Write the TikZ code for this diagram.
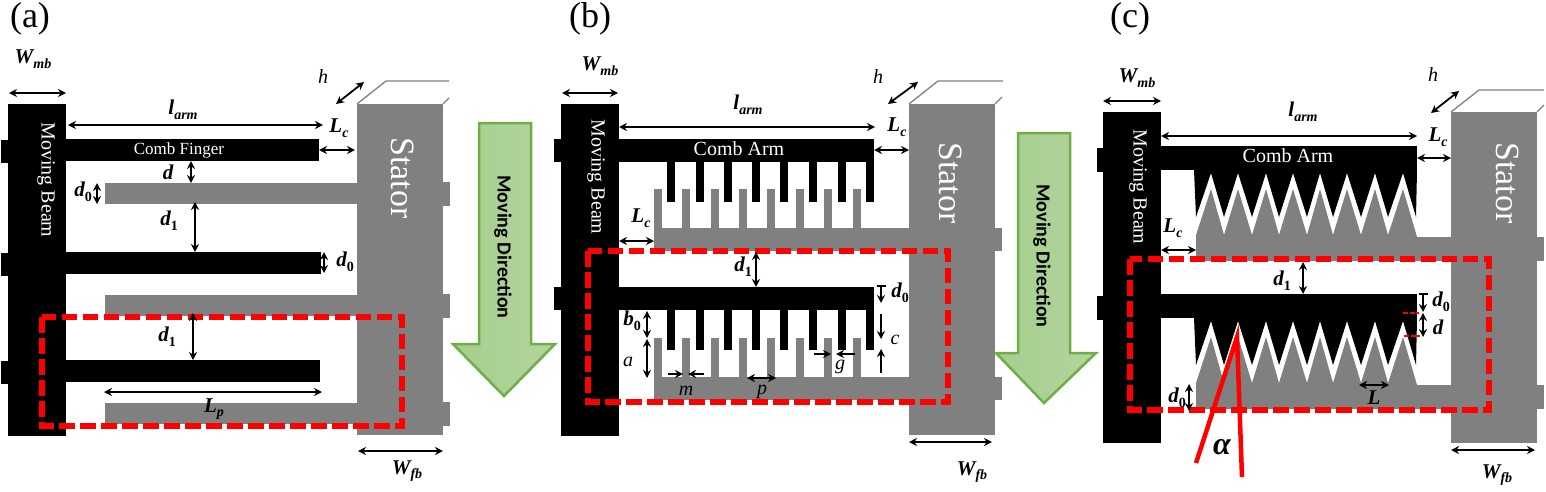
\documentclass[tikz,border=0pt]{standalone}
\usepackage{amsmath,amssymb,amsfonts}
\usepackage{fontspec}
\setmainfont{Liberation Serif}
\newfontfamily\arrowfont{Carlito}
\usetikzlibrary{arrows.meta}
\definecolor{arrowgreen}{HTML}{70AD47}
\definecolor{arrowleft}{HTML}{A6CE8D}
\definecolor{arrowright}{HTML}{B2D49E}
\newcommand{\low}[1]{\raisebox{-0.22em}{\fontsize{14}{14}\selectfont #1}}
\newcommand{\num}[1]{\raisebox{-0.22em}{\upshape\fontsize{14}{14}\selectfont #1}}

\begin{document}
\begin{tikzpicture}[x=1pt,y=-1pt,
    black_part/.style={fill=black},
    grey_part/.style={fill=black!50},
    top_edge/.style={draw=black!50,line width=1.3pt},
    red_box/.style={draw=red,line width=5.5pt,dash pattern=on 15.5pt off 5.5pt},
    red_line/.style={draw=red,line width=4.5pt},
    red_dots/.style={draw=red,line width=2.5pt,dash pattern=on 5pt off 1.5pt},
    dim_arrow/.style={draw=black,line width=1.8pt,{Stealth[length=8pt,width=8pt]}-{Stealth[length=8pt,width=8pt]}},
    one_arrow/.style={draw=black,line width=1.8pt,-{Stealth[length=8pt,width=8pt]}},
    bar_arrow/.style={draw=black,line width=1.8pt,{Bar[width=9pt]}-{Stealth[length=8pt,width=8pt]}},
    move_arrow/.style={draw=arrowgreen,line width=2.5pt,left color=arrowleft,right color=arrowright},
    big_lab/.style={inner sep=0pt,font=\fontsize{36}{36}\selectfont},
    beam_lab/.style={inner sep=0pt,text=white,rotate=-90,font=\fontsize{20}{20}\selectfont},
    stat_lab/.style={inner sep=0pt,text=white,rotate=-90,font=\fontsize{34}{34}\selectfont},
    comb_lab/.style={inner sep=0pt,text=white},
    move_lab/.style={inner sep=0pt,rotate=-90,font=\arrowfont\bfseries\fontsize{20}{20}\selectfont},
    sym_lab/.style={inner sep=0pt,font=\bfseries\itshape\fontsize{21}{21}\selectfont},
    thin_lab/.style={inner sep=0pt,font=\itshape\fontsize{20}{20}\selectfont}]
    \useasboundingbox (0,0) rectangle (1546,491);

    % panel a
    \fill[black_part] (8,104) rectangle (66,436);
    \foreach \y/\e in {139/319,252/321,360/320} {
        \fill[black_part] (1,\y+1) rectangle (8,\y+24);
        \fill[black_part] (66,\y) rectangle (\e,\y+22);
    }
    \fill[grey_part] (357,104) rectangle (443,435);
    \foreach \y in {183,295,403} {
        \fill[grey_part] (105,\y) rectangle (357,\y+21);
        \fill[grey_part] (443,\y-1) rectangle (450,\y+23);
    }
    \draw[top_edge] (357,104) -- (386,81) -- (449,81);
    \draw[top_edge] (443,104) -- (449,98);
    \draw[move_arrow] (479,123) -- (531,123) -- (531,344) -- (555,344) -- (504,396) -- (453,344) -- (479,344) -- cycle;
    \draw[red_box] (42,317) rectangle (402,426);

    \node[big_lab] (a) at (30,19) {(a)};
    \node[beam_lab] (beam_a) at (46,180) {Moving Beam};
    \node[stat_lab] (stat_a) at (403,178) {Stator};
    \node[comb_lab,font=\fontsize{17}{17}\selectfont] (comb_a) at (179,150) {Comb Finger};
    \node[move_lab] (move_a) at (503,247) {Moving Direction};
    \node[sym_lab] (wmb_a) at (33,59) {W\low{mb}};
    \node[sym_lab] (larm_a) at (183,110) {l\low{arm}};
    \node[thin_lab] (h_a) at (323,77) {h};
    \node[sym_lab] (lc_a) at (339,128) {L\low{c}};
    \node[sym_lab] (d_a) at (168,172) {d};
    \node[sym_lab] (d0_a) at (83,192) {d\num{0}};
    \node[sym_lab] (d1_a) at (169,221) {d\num{1}};
    \node[sym_lab] (d02_a) at (345,262) {d\num{0}};
    \node[sym_lab] (d12_a) at (167,337) {d\num{1}};
    \node[sym_lab] (lp_a) at (214,409) {L\low{p}};
    \node[sym_lab] (wfb_a) at (407,471) {W\low{fb}};
    \draw[dim_arrow] (9,93) -- (66,93);
    \draw[dim_arrow] (68,125) -- (323,125);
    \draw[dim_arrow] (319,150) -- (355,150);
    \draw[dim_arrow] (336,104) -- (364,82);
    \draw[dim_arrow] (191,161) -- (191,183);
    \draw[dim_arrow] (97,183) -- (97,204);
    \draw[dim_arrow] (195,202) -- (195,252);
    \draw[dim_arrow] (324,252) -- (324,273);
    \draw[dim_arrow] (193,313) -- (193,360);
    \draw[dim_arrow] (104,392) -- (322,392);
    \draw[dim_arrow] (358,451) -- (443,451);

    % panel b
    \fill[black_part] (561,104) rectangle (619,436);
    \fill[grey_part] (909,104) rectangle (995,435);
    \foreach \y in {139,287} {
        \fill[black_part] (554,\y) rectangle (561,\y+23);
        \fill[black_part] (619,\y) rectangle (874,\y+23);
        \foreach \x in {667,696,724,752,780,809,838,866}
            \fill[black_part] (\x,\y+23) rectangle (\x+8,\y+63);
    }
    \foreach \y in {228,377} {
        \fill[grey_part] (654,\y) rectangle (909,\y+23);
        \fill[grey_part] (995,\y) rectangle (1002,\y+23);
        \foreach \x in {654,682,711,739,767,796,824,853}
            \fill[grey_part] (\x,\y-39) rectangle (\x+8,\y);
    }
    \draw[top_edge] (909,104) -- (938,81) -- (1003,81);
    \draw[top_edge] (995,104) -- (1002,97);
    \draw[move_arrow] (1018,133) -- (1070,133) -- (1070,353) -- (1096,353) -- (1044,403) -- (996,353) -- (1018,353) -- cycle;
    \draw[red_box] (588,251) rectangle (948,402);

    \node[big_lab] (b) at (590,19) {(b)};
    \node[beam_lab] (beam_b) at (596,177) {Moving Beam};
    \node[stat_lab] (stat_b) at (951,183) {Stator};
    \node[comb_lab,font=\fontsize{20}{20}\selectfont] (comb_b) at (739,149) {Comb Arm};
    \node[move_lab] (move_b) at (1042,256) {Moving Direction};
    \node[sym_lab] (wmb_b) at (600,66) {W\low{mb}};
    \node[sym_lab] (larm_b) at (748,105) {l\low{arm}};
    \node[thin_lab] (h_b) at (878,77) {h};
    \node[sym_lab] (lc_b) at (897,127) {L\low{c}};
    \node[sym_lab] (lc2_b) at (641,218) {L\low{c}};
    \node[sym_lab] (d1_b) at (743,267) {d\num{1}};
    \node[sym_lab] (d0_b) at (900,293) {d\num{0}};
    \node[thin_lab] (c_b) at (895,340) {c};
    \node[sym_lab] (b0_b) at (632,321) {b\num{0}};
    \node[thin_lab] (a_b) at (628,362) {a};
    \node[thin_lab] (m_b) at (686,391) {m};
    \node[thin_lab] (p_b) at (762,392) {p};
    \node[thin_lab] (g_b) at (840,367) {g};
    \node[sym_lab] (wfb_b) at (972,472) {W\low{fb}};
    \draw[dim_arrow] (562,93) -- (618,93);
    \draw[dim_arrow] (619,127) -- (875,127);
    \draw[dim_arrow] (874,150) -- (909,150);
    \draw[dim_arrow] (888,104) -- (918,82);
    \draw[dim_arrow] (619,241) -- (654,241);
    \draw[dim_arrow] (756,252) -- (756,287);
    \draw[bar_arrow] (881,285) -- (881,303);
    \draw[one_arrow] (881,314) -- (881,339);
    \draw[one_arrow] (881,373) -- (881,349);
    \draw[dim_arrow] (647,311) -- (647,338);
    \draw[dim_arrow] (647,339) -- (647,378);
    \draw[one_arrow] (668,374) -- (683,374);
    \draw[one_arrow] (704,374) -- (688,374);
    \draw[dim_arrow] (747,378) -- (776,378);
    \draw[one_arrow] (814,354) -- (831,354);
    \draw[one_arrow] (855,354) -- (836,354);
    \draw[dim_arrow] (909,442) -- (992,442);

    % panel c
    \fill[black_part] (1103,112) rectangle (1161,443);
    \fill[grey_part] (1451,112) rectangle (1537,443);
    \foreach \dy in {0,148} {
        \begin{scope}[shift={(0,\dy)}]
            \fill[black_part] (1097,148) rectangle (1103,172);
            \fill[black_part] (1161,146) rectangle (1417,170);
            \fill[black_part] (1194,170) -- (1196,217) -- (1211,173) -- (1224,217) -- (1238,173) -- (1252,217) -- (1266,173) -- (1279,217) -- (1293,173) -- (1307,217) -- (1320,173) -- (1333,217) -- (1347,173) -- (1361,217) -- (1375,173) -- (1388,217) -- (1403,173) -- (1416,217) -- (1417,170) -- cycle;
            \fill[grey_part] (1196,261) -- (1196,235) -- (1211,189) -- (1224,235) -- (1238,189) -- (1252,235) -- (1266,189) -- (1279,235) -- (1293,189) -- (1307,235) -- (1320,189) -- (1333,235) -- (1347,189) -- (1361,235) -- (1375,189) -- (1388,235) -- (1403,189) -- (1417,237) -- (1451,237) -- (1451,261) -- cycle;
            \fill[grey_part] (1537,237) rectangle (1544,261);
        \end{scope}
    }
    \draw[top_edge] (1451,112) -- (1479,90) -- (1544,90);
    \draw[top_edge] (1537,112) -- (1544,105);
    \draw[red_box] (1130,259) rectangle (1489,410);
    \draw[red_line] (1196,463) -- (1237,337) -- (1242,477);
    \draw[red_dots] (1403,313) -- (1419,313);
    \draw[red_dots] (1404,336) -- (1420,336);

    \node[big_lab] (c) at (1130,19) {(c)};
    \node[beam_lab] (beam_c) at (1138,187) {Moving Beam};
    \node[stat_lab] (stat_c) at (1508,183) {Stator};
    \node[comb_lab,font=\fontsize{20}{20}\selectfont] (comb_c) at (1288,156) {Comb Arm};
    \node[sym_lab] (wmb_c) at (1137,78) {W\low{mb}};
    \node[sym_lab] (larm_c) at (1303,112) {l\low{arm}};
    \node[thin_lab] (h_c) at (1433,75) {h};
    \node[sym_lab] (lc_c) at (1438,137) {L\low{c}};
    \node[sym_lab] (lc2_c) at (1173,228) {L\low{c}};
    \node[sym_lab] (d1_c) at (1282,281) {d\num{1}};
    \node[sym_lab] (d0_c) at (1441,302) {d\num{0}};
    \node[sym_lab] (d_c) at (1438,327) {d};
    \node[sym_lab] (d02_c) at (1177,398) {d\num{0}};
    \node[sym_lab] (l_c) at (1374,398) {L};
    \node[inner sep=0pt,font=\bfseries\itshape\fontsize{32}{32}\selectfont] (alpha_c) at (1222,447) {α};
    \node[sym_lab] (wfb_c) at (1497,475) {W\low{fb}};
    \draw[dim_arrow] (1103,101) -- (1161,101);
    \draw[dim_arrow] (1161,136) -- (1417,136);
    \draw[dim_arrow] (1417,158) -- (1451,158);
    \draw[dim_arrow] (1431,113) -- (1459,91);
    \draw[dim_arrow] (1161,250) -- (1196,250);
    \draw[dim_arrow] (1303,262) -- (1303,294);
    \draw[bar_arrow] (1423,293) -- (1423,312);
    \draw[dim_arrow] (1423,313) -- (1423,337);
    \draw[dim_arrow] (1189,384) -- (1189,411);
    \draw[dim_arrow] (1359,385) -- (1389,385);
    \draw[dim_arrow] (1451,450) -- (1535,450);
\end{tikzpicture}
\end{document}
